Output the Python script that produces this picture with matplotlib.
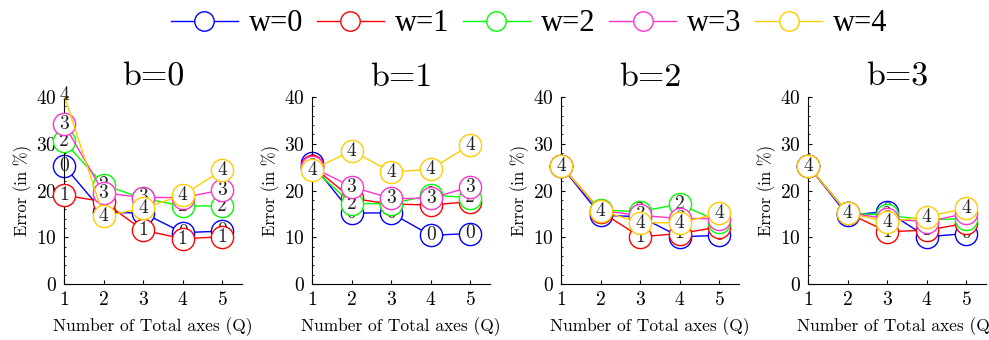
import matplotlib.pyplot as plt
import numpy as np

plt.rcParams['font.family'] = 'cmr10'
plt.rcParams['mathtext.fontset'] = 'cm'
plt.rcParams['axes.formatter.use_mathtext'] = True

Q = [1, 2, 3, 4, 5]
widths = [0, 1, 2, 3, 4]
colors = ['#0000ff', '#ff0000', '#00ff00', '#ff33cc', '#ffcc00']

# error (%) per b, one row per w
err_b0 = [[25.3, 15.3, 15.2, 11.0, 11.3],
          [19.0, 17.6, 11.5, 9.7, 10.1],
          [30.5, 21.2, 18.3, 16.7, 16.7],
          [34.2, 19.5, 18.5, 18.5, 20.1],
          [40.4, 14.5, 16.2, 19.0, 24.4]]
err_b1 = [[25.8, 15.2, 15.2, 10.4, 10.8],
          [25.3, 18.3, 17.1, 16.9, 17.6],
          [24.8, 17.2, 17.2, 19.0, 18.5],
          [25.0, 20.8, 18.3, 18.3, 20.8],
          [24.4, 28.5, 24.0, 24.5, 29.8]]
err_b2 = [[25.3, 14.7, 14.4, 10.1, 10.4],
          [25.3, 15.5, 10.1, 10.8, 12.2],
          [25.3, 15.8, 15.5, 17.1, 13.3],
          [25.3, 15.7, 14.7, 14.0, 14.0],
          [25.3, 15.7, 13.1, 13.1, 15.1]]
err_b3 = [[25.3, 14.7, 15.5, 10.1, 10.8],
          [25.3, 15.2, 11.2, 11.5, 13.0],
          [25.3, 15.2, 14.7, 13.7, 14.0],
          [25.3, 15.2, 14.0, 13.3, 15.1],
          [25.3, 15.2, 13.3, 14.4, 16.2]]
errors = [err_b0, err_b1, err_b2, err_b3]
titles = ['b=0', 'b=1', 'b=2', 'b=3']
ymax = 40

fig = plt.figure(figsize=(9.89, 3.40), dpi=100)
lefts = [64, 312, 561, 808]

handles = []
for k, left in enumerate(lefts):
    ax = fig.add_axes([left / 989, 56 / 340, 178 / 989, 187 / 340])
    for i, w in enumerate(widths):
        y = np.array(errors[k][i])
        z = 2 + 2 * i
        ax.plot(Q, y, '-', color=colors[i], lw=1, zorder=z)
        # markers are kept only where the point lies inside the y range
        inside = y <= ymax
        ax.plot(np.array(Q)[inside], y[inside], 'o', ms=16, mfc='white',
                mec=colors[i], mew=1, zorder=z, clip_on=False)
        for q, v in zip(Q, y):
            ax.text(q, v, str(w), ha='center', va='center', fontsize=14,
                    color='#222222', zorder=z + 1)
        if k == 0:
            ln, = ax.plot([], [], '-o', color=colors[i], lw=1, ms=14,
                          mfc='white', mec=colors[i], mew=1)
            handles.append(ln)
    ax.set_xlim(1, 5.5)
    ax.set_ylim(0, ymax)
    ax.set_xticks(Q)
    ax.set_yticks([0, 10, 20, 30, 40])
    ax.set_yticks(np.arange(0, 41, 2), minor=True)
    ax.spines['top'].set_visible(False)
    ax.spines['right'].set_visible(False)
    ax.tick_params(direction='in', labelsize=14, length=3, pad=5)
    ax.tick_params(which='minor', direction='in', length=1.5)
    ax.set_title(titles[k], fontsize=24.5, pad=8)
    ax.set_xlabel('Number of Total axes (Q)', fontsize=12.5, labelpad=6)
    ax.set_ylabel('Error (in %)', fontsize=12, labelpad=3)

fig.legend(handles, ['w=%d' % w for w in widths], loc='center',
           bbox_to_anchor=(0.535, 0.93), ncol=5, frameon=False,
           prop={'family': 'Liberation Serif', 'size': 22},
           handlelength=2.2, handletextpad=0.35, columnspacing=0.45)

fig.savefig('out.png', dpi=100)
